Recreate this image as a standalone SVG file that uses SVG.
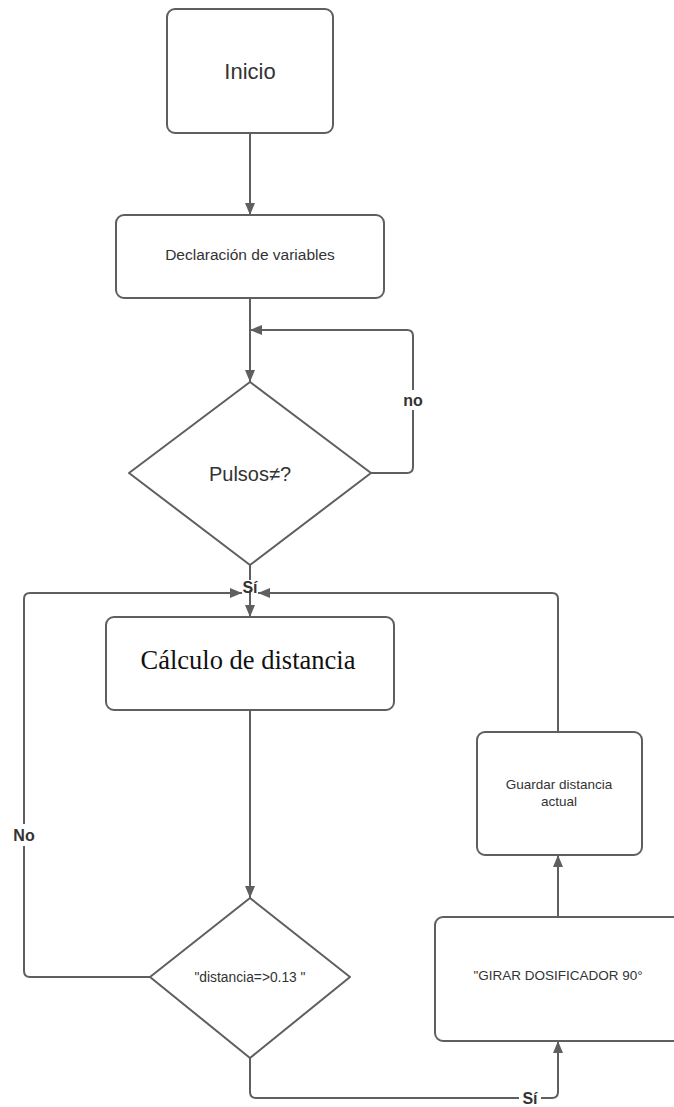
<svg xmlns="http://www.w3.org/2000/svg" width="674" height="1107" viewBox="0 0 674 1107">
<defs>
<style>
.box{fill:#fff;stroke:#5f5f5f;stroke-width:2}
.ln{fill:none;stroke:#5f5f5f;stroke-width:2}
.t{font-family:"Liberation Sans",Arial,sans-serif;fill:#333;text-anchor:middle;dominant-baseline:central}
.lbl{font-family:"Liberation Sans",Arial,sans-serif;font-weight:bold;font-size:16px;fill:#333;text-anchor:middle;dominant-baseline:central}
.bg{fill:#fff}
</style>
<marker id="ah" viewBox="0 0 12 10" refX="12" refY="5" markerWidth="12" markerHeight="10" markerUnits="userSpaceOnUse" orient="auto">
<path d="M0 0 L12 5 L0 10 Z" fill="#5f5f5f"/>
</marker>
</defs>
<rect width="674" height="1107" fill="#fff"/>
<g id="connectors">
<path class="ln" d="M250 133 V215" marker-end="url(#ah)"/>
<path class="ln" d="M250 298 V382" marker-end="url(#ah)"/>
<path class="ln" d="M371 473 H407 Q413 473 413 467 V336 Q413 330 407 330 H250" marker-end="url(#ah)"/>
<path class="ln" d="M250 565 V617" marker-end="url(#ah)"/>
<path class="ln" d="M150 977 H30 Q24 977 24 971 V599 Q24 593 30 593 H242" marker-end="url(#ah)"/>
<path class="ln" d="M558 732 V599 Q558 593 552 593 H258" marker-end="url(#ah)"/>
<path class="ln" d="M250 710 V898" marker-end="url(#ah)"/>
<path class="ln" d="M250 1058 V1092 Q250 1098 256 1098 H552 Q558 1098 558 1092 V1041" marker-end="url(#ah)"/>
<path class="ln" d="M558 917 V855" marker-end="url(#ah)"/>
<rect class="bg" x="401" y="390" width="24" height="20"/>
<text class="lbl" x="413" y="400">no</text>
<rect class="bg" x="241" y="580" width="18" height="10"/>
<text class="lbl" x="250" y="587">Sí</text>
<rect class="bg" x="10" y="824" width="28" height="22"/>
<text class="lbl" x="24" y="835">No</text>
<rect class="bg" x="519" y="1088" width="22" height="20"/>
<text class="lbl" x="530" y="1098">Sí</text>
</g>
<g id="inicio">
<rect class="box" x="167" y="9" width="166" height="124" rx="8"/>
<text class="t" x="250" y="71" font-size="22">Inicio</text>
</g>
<g id="declaracion">
<rect class="box" x="116" y="215" width="268" height="83" rx="8"/>
<text class="t" x="250" y="254" font-size="15.5">Declaración de variables</text>
</g>
<g id="pulsos">
<path class="box" stroke-linejoin="round" d="M250 382 L371 473 L250 565 L129 473 Z"/>
<text class="t" x="250" y="474" font-size="20">Pulsos≠?</text>
</g>
<g id="calculo">
<rect class="box" x="106" y="617" width="288" height="93" rx="8"/>
<text x="248" y="669" font-family="'Liberation Serif','Times New Roman',serif" font-size="26.5" fill="#111" text-anchor="middle">Cálculo de distancia</text>
</g>
<g id="decision">
<path class="box" stroke-linejoin="round" d="M250 898 L350 977 L250 1058 L150 977 Z"/>
<text class="t" x="250" y="977" font-size="13.8">"distancia=&gt;0.13 "</text>
</g>
<g id="girar">
<rect class="box" x="435" y="917" width="248" height="124" rx="8"/>
<text class="t" x="558" y="975" font-size="13.5">"GIRAR DOSIFICADOR 90°</text>
</g>
<g id="guardar">
<rect class="box" x="477" y="732" width="165" height="123" rx="8"/>
<text class="t" x="559" y="784" font-size="13.5">Guardar distancia</text>
<text class="t" x="559" y="801" font-size="13.5">actual</text>
</g>
</svg>
